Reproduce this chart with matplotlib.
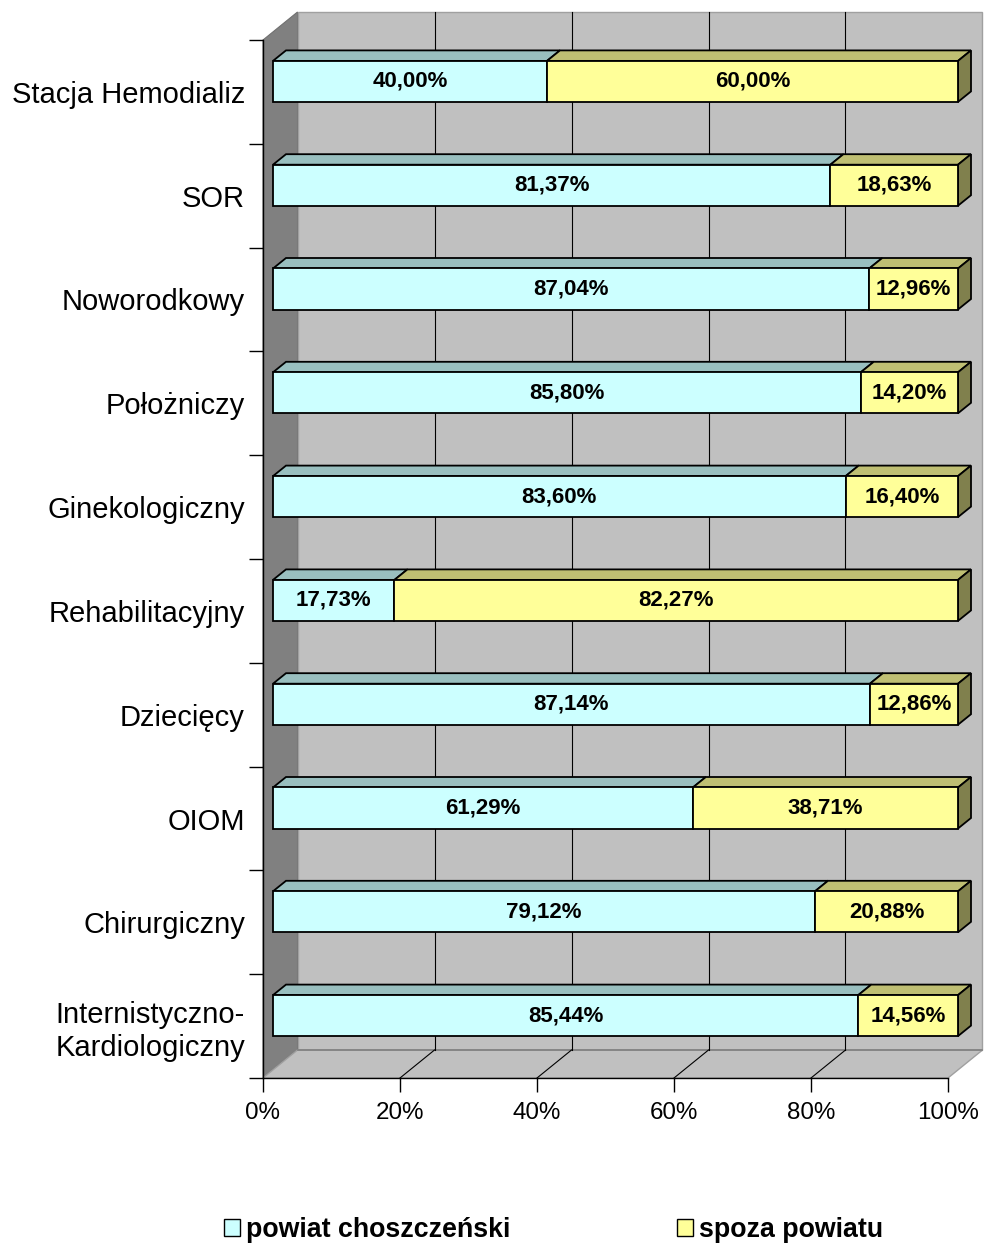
import matplotlib
matplotlib.use('Agg')
import matplotlib.pyplot as plt
from matplotlib.patches import Polygon, Patch
from matplotlib.lines import Line2D
from matplotlib.transforms import IdentityTransform, ScaledTranslation
import numpy as np

plt.rcParams['font.family'] = ['Liberation Sans', 'DejaVu Sans']

# ---------------- data (top to bottom) ----------------
categories = ['Stacja Hemodializ', 'SOR', 'Noworodkowy', 'Położniczy',
              'Ginekologiczny', 'Rehabilitacyjny', 'Dziecięcy', 'OIOM',
              'Chirurgiczny', 'Internistyczno-\nKardiologiczny']
local_pct = [40.00, 81.37, 87.04, 85.80, 83.60, 17.73, 87.14, 61.29, 79.12, 85.44]
outside_pct = [60.00, 18.63, 12.96, 14.20, 16.40, 82.27, 12.86, 38.71, 20.88, 14.56]
xticks = [0, 20, 40, 60, 80, 100]
xtick_labels = ['0%', '20%', '40%', '60%', '80%', '100%']
series_names = ['powiat choszczeński', 'spoza powiatu']

# ---------------- style ----------------
C_FACE = ['#CCFFFF', '#FFFF99']
C_TOP = ['#99BFBF', '#BFBF73']
C_SIDE = '#80804D'
WALL_C = '#C0C0C0'
SIDE_WALL_C = '#808080'

W, H, DPI = 987, 1245, 100
fig = plt.figure(figsize=(W / DPI, H / DPI), dpi=DPI)
ax = fig.add_axes([263 / W, 1 - 1078 / H, 685 / W, 1038 / H])
n = len(categories)
ax.set_xlim(0, 100)
ax.set_ylim(-0.5, n - 0.5)
ax.patch.set_visible(False)

ident = IdentityTransform()


def P(x, y, off):
    px, py = ax.transData.transform((x, y))
    return (px + off[0], py + off[1])


ZERO = (0, 0)
WALL = (34.5, 28)     # depth vector of the walls (px)
FRONT = (10, 10.5)    # bar front face offset (px)
BACK = (23, 21)       # bar back face offset (px)
ylo, yhi = -0.5, n - 0.5
EDGE_LW = 1.3

# walls
ax.add_patch(Polygon([P(0, ylo, ZERO), P(0, yhi, ZERO), P(0, yhi, WALL), P(0, ylo, WALL)],
                     closed=True, fc=SIDE_WALL_C, ec='#707070', lw=0.8,
                     transform=ident, clip_on=False, zorder=0.5))
ax.add_patch(Polygon([P(0, ylo, WALL), P(0, yhi, WALL), P(100, yhi, WALL), P(100, ylo, WALL)],
                     closed=True, fc=WALL_C, ec='#A0A0A0', lw=1.0,
                     transform=ident, clip_on=False, zorder=0.5))
ax.add_patch(Polygon([P(0, ylo, ZERO), P(100, ylo, ZERO), P(100, ylo, WALL), P(0, ylo, WALL)],
                     closed=True, fc=WALL_C, ec='#A0A0A0', lw=1.0,
                     transform=ident, clip_on=False, zorder=0.6))
# dark bottom edge of the back wall
a, b = P(0, ylo, WALL), P(100, ylo, WALL)
ax.add_line(Line2D([a[0], b[0]], [a[1], b[1]], color='#808080', lw=1.2,
                   transform=ident, clip_on=False, zorder=0.7))

# gridlines on back wall and floor
for xv in xticks[1:-1]:
    a, b = P(xv, ylo, WALL), P(xv, yhi, WALL)
    ax.add_line(Line2D([a[0], b[0]], [a[1], b[1]], color='black', lw=0.8,
                       transform=ident, clip_on=False, zorder=1))
    a, b = P(xv, ylo, ZERO), P(xv, ylo, WALL)
    ax.add_line(Line2D([a[0], b[0]], [a[1], b[1]], color='black', lw=0.8,
                       transform=ident, clip_on=False, zorder=1))

# bars
ypos = np.arange(n)[::-1]
bh = 0.395
front_tr = ax.transData + ScaledTranslation(FRONT[0] / DPI, FRONT[1] / DPI, fig.dpi_scale_trans)

lefts = [np.zeros(n), np.array(local_pct)]
vals = [np.array(local_pct), np.array(outside_pct)]

for s in range(2):
    for i in range(n):
        x0 = lefts[s][i]
        x1 = x0 + vals[s][i]
        yt = ypos[i] + bh / 2
        ax.add_patch(Polygon([P(x0, yt, FRONT), P(x1, yt, FRONT), P(x1, yt, BACK), P(x0, yt, BACK)],
                             closed=True, fc=C_TOP[s], ec='black', lw=EDGE_LW,
                             transform=ident, clip_on=False, zorder=3))
# right side faces
for i in range(n):
    yb, yt = ypos[i] - bh / 2, ypos[i] + bh / 2
    ax.add_patch(Polygon([P(100, yb, FRONT), P(100, yt, FRONT), P(100, yt, BACK), P(100, yb, BACK)],
                         closed=True, fc=C_SIDE, ec='black', lw=EDGE_LW,
                         transform=ident, clip_on=False, zorder=3))

for s in range(2):
    ax.barh(ypos, vals[s], height=bh, left=lefts[s], color=C_FACE[s], edgecolor='black',
            linewidth=EDGE_LW, transform=front_tr, clip_on=False, zorder=4)
    for i in range(n):
        xc = lefts[s][i] + vals[s][i] / 2
        txt = f"{vals[s][i]:.2f}".replace('.', ',') + '%'
        ax.text(xc, ypos[i], txt, transform=front_tr, ha='center', va='center',
                fontsize=16, fontweight='bold', color='black', zorder=6, clip_on=False)

# axes
for sp in ['top', 'right']:
    ax.spines[sp].set_visible(False)
for sp in ['left', 'bottom']:
    ax.spines[sp].set_color('black')
    ax.spines[sp].set_linewidth(1.0)
    ax.spines[sp].set_zorder(2)

ax.set_yticks(np.arange(-0.5, n, 1))
ax.tick_params(axis='y', which='major', length=10.08, width=1, direction='out', labelleft=False)
ax.set_yticks(ypos, labels=categories, minor=True)
ax.tick_params(axis='y', which='minor', length=0, pad=13, labelsize=21)
ax.set_xticks(xticks, labels=xtick_labels)
ax.tick_params(axis='x', length=10.08, width=1, direction='out', pad=7, labelsize=17.4)

# legend
handles = [Patch(facecolor=C_FACE[0], edgecolor='black', linewidth=1.0),
           Patch(facecolor=C_FACE[1], edgecolor='black', linewidth=1.0)]
fig.legend(handles, series_names, loc='center left',
           bbox_to_anchor=(224 / W, 1 - 1230 / H), ncol=2, frameon=False,
           prop={'size': 19.3, 'weight': 'bold'}, borderpad=0, borderaxespad=0,
           handlelength=0.6, handleheight=0.6, handletextpad=0.22, columnspacing=6.2)

fig.savefig('out.png', dpi=DPI)
